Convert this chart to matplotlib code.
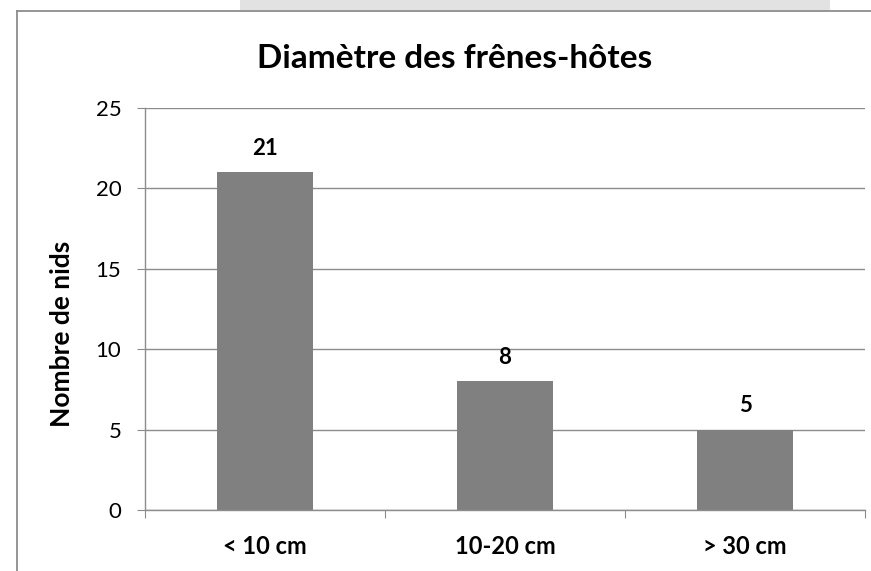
import matplotlib
matplotlib.use("Agg")
import matplotlib.pyplot as plt
from matplotlib.patches import Rectangle
from matplotlib.lines import Line2D

plt.rcParams['font.family'] = ['Lato', 'DejaVu Sans']

categories = ["< 10 cm", "10-20 cm", "> 30 cm"]
nids = [21, 8, 5]
yticks = [0, 5, 10, 15, 20, 25]

fig = plt.figure(figsize=(8.71, 5.71), dpi=100)
W, H = 871.0, 571.0

# faded strip above the frame
fig.patches.append(Rectangle((240 / W, 1 - 10 / H), 590 / W, 10 / H,
                             transform=fig.transFigure, facecolor="#e2e2e2",
                             edgecolor="none", zorder=0))
# chart frame (top and left edges)
fig.lines.append(Line2D([17 / W, 1], [1 - 10.5 / H, 1 - 10.5 / H],
                        transform=fig.transFigure, color="#8c8c8c", lw=1.3))
fig.lines.append(Line2D([17 / W, 17 / W], [0, 1 - 10.5 / H],
                        transform=fig.transFigure, color="#8c8c8c", lw=1.3))

ax = fig.add_axes([145 / W, 61 / H, 720 / W, 402 / H])

x = list(range(len(categories)))
ax.bar(x, nids, width=0.4, color="#808080", zorder=2)
for xi, v in zip(x, nids):
    ax.annotate(str(v), (xi, v), xytext=(0, 9.5), textcoords="offset points",
                ha="center", va="bottom", fontsize=16, fontweight="bold")

ax.set_xlim(-0.5, 2.5)
ax.set_ylim(0, 25)
ax.set_yticks(yticks)
ax.yaxis.grid(True, color="#8c8c8c", lw=1)
ax.set_axisbelow(True)

for s in ["top", "right"]:
    ax.spines[s].set_visible(False)
for s in ["left", "bottom"]:
    ax.spines[s].set_color("#8c8c8c")
    ax.spines[s].set_linewidth(1)

# category separators as ticks
ax.set_xticks([-0.5, 0.5, 1.5, 2.5])
ax.set_xticklabels([])
ax.set_xticks(x, minor=True)
ax.set_xticklabels(categories, minor=True, fontsize=17, fontweight="bold")
ax.tick_params(axis="x", which="major", length=6, color="#8c8c8c", direction="out")
ax.tick_params(axis="x", which="minor", length=0, pad=18)
ax.tick_params(axis="y", length=6, color="#8c8c8c", labelsize=16, pad=11)

fig.text(62 / W, 1 - 334 / H, "Nombre de nids", rotation=90, ha="center",
         va="center", fontsize=19, fontweight="bold")

fig.text(455 / W, 1 - 59 / H, "Diamètre des frênes-hôtes", ha="center",
         va="center", fontsize=24, fontweight="bold")

fig.savefig("out.png", dpi=100)
